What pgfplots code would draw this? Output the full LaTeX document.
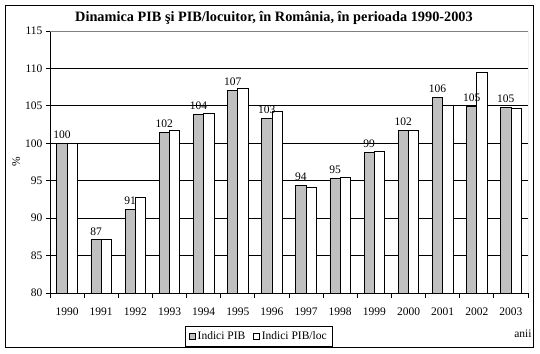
\documentclass[border=0pt]{standalone}
\usepackage{pgfplots}
\pgfplotsset{compat=1.18}
\usepackage{fontspec}
\setmainfont{Liberation Serif}
\definecolor{bargray}{RGB}{192,192,192}
\begin{document}
\begin{tikzpicture}[x=1bp,y=1bp]
\path[fill=white] (-50,-60) rectangle (490,293);
\begin{axis}[
  at={(0,0)}, anchor=south west,
  scale only axis, width=478bp, height=262bp,
  ymin=80, ymax=115, xmin=-0.5, xmax=13.5,
  ytick={80,85,...,115},
  ymajorgrids, grid style={black, line width=0.8bp},
  axis line style={draw=none},
  tick align=outside, ytick pos=left, xtick pos=bottom,
  major tick length=4bp,
  tick style={black, line width=0.8bp},
  xtick={0,...,13},
  xticklabels={1990,1991,1992,1993,1994,1995,1996,1997,1998,1999,2000,2001,2002,2003},
  xtick style={draw=none},
  extra x ticks={-0.5,0.5,...,13.5},
  extra x tick labels={},
  extra x tick style={grid=none, xtick style={draw=black}, major tick length=5bp},
  xticklabel style={yshift=-7bp},
  ticklabel style={font=\fontsize{11.5bp}{13bp}\selectfont},
  /pgf/number format/assume math mode=true,
  ybar=0pt, bar width=10.3bp,
  ylabel={\%},
  ylabel style={at={(axis description cs:-0.0711,0.5)}, anchor=center, font=\fontsize{11.5bp}{13bp}\selectfont},
  xlabel={anii},
  xlabel style={at={(axis description cs:0.9895,-0.1565)}, anchor=center, inner sep=0pt, font=\fontsize{11.5bp}{13bp}\selectfont},
  legend columns=2,
  legend style={at={(axis description cs:0.437,-0.166)}, anchor=center, draw=black, line width=0.8bp,
    font=\fontsize{11.5bp}{13bp}\selectfont, inner xsep=3.5bp, inner ysep=3bp,
    /tikz/every even column/.append style={column sep=6bp}},
  legend image code/.code={\draw[#1,line width=0.6bp] (0bp,-3bp) rectangle (6bp,3bp);},
]
\addplot[fill=bargray, draw=black, line width=0.8bp,
  nodes near coords={\pgfplotspointmeta}, point meta=explicit symbolic,
  every node near coord/.append style={font=\fontsize{11.5bp}{13bp}\selectfont, black, yshift=1bp}]
coordinates {
(0,100) [100]
(1,87.1) [87]
(2,91.2) [91]
(3,101.5) [102]
(4,103.9) [104]
(5,107.1) [107]
(6,103.3) [103]
(7,94.4) [94]
(8,95.3) [95]
(9,98.8) [99]
(10,101.7) [102]
(11,106.1) [106]
(12,104.9) [105]
(13,104.8) [105]
};
\addlegendentry{Indici PIB}
\addplot[fill=white, draw=black, line width=0.8bp]
coordinates {
(0,100)
(1,87.1)
(2,92.8)
(3,101.7)
(4,104.0)
(5,107.3)
(6,104.2)
(7,94.1)
(8,95.5)
(9,98.9)
(10,101.7)
(11,105.1)
(12,109.5)
(13,104.6)
};
\addlegendentry{Indici PIB/loc}
\draw[black, line width=0.8bp] (rel axis cs:0,1) -- (rel axis cs:0,0) -- (rel axis cs:1,0);
\draw[gray, line width=0.8bp] (rel axis cs:0,1) -- (rel axis cs:1,1) -- (rel axis cs:1,0);
\end{axis}
\node[anchor=base, inner sep=0pt, font=\fontsize{14.3bp}{16bp}\selectfont\bfseries] at (224,272) {Dinamica PIB şi PIB/locuitor, în România, în perioada 1990-2003};
\draw[black,line width=0.9bp] (-44.3,-54.3) rectangle (483.3,288);
\end{tikzpicture}
\end{document}
